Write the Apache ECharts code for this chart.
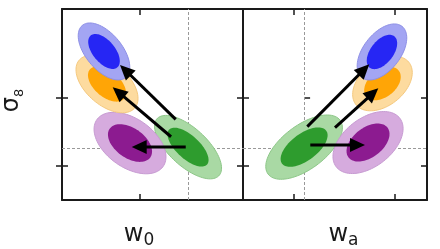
<!DOCTYPE html>
<html><head><meta charset="utf-8">
<script src="https://cdn.jsdelivr.net/npm/echarts@6/dist/echarts.min.js"></script>
<style>html,body{margin:0;padding:0;background:#fff}#c{width:440px;height:249px}</style>
</head><body><div id="c"></div>
<script>
// Forecast models, in drawing order
const models = ['fiducial', 'model P', 'model O', 'model B'];
// Left panel: w0 vs sigma8
const w0Mean   = [-1.000, -1.2417, -1.3375, -1.350];
const w0Sigma  = [0.0563, 0.0604, 0.0521, 0.0433];
const s8MeanL  = [0.7910, 0.7934, 0.8280, 0.8471];
const s8SigmaL = [0.0075, 0.00727, 0.0068, 0.00674];
const rhoL     = [-0.66, -0.45, -0.50, -0.55];
// Right panel: wa vs sigma8
const waMean   = [0.000, 0.633, 0.776, 0.771];
const waSigma  = [0.153, 0.140, 0.119, 0.099];
const s8MeanR  = [0.7910, 0.7937, 0.8283, 0.8468];
const s8SigmaR = [0.0076, 0.00733, 0.00645, 0.00663];
const rhoR     = [0.60, 0.45, 0.40, 0.50];
// 2D contour levels (95%, 68%)
const levels = [2.48, 1.52];
// Shift arrows [x0, y0, xTip, yTip]
const arrowsL = [[-1.0096, 0.7911, -1.2346, 0.7911], [-1.0708, 0.7971, -1.3138, 0.8261], [-1.0513, 0.8073, -1.2833, 0.8392]];
const arrowsR = [[0.0614, 0.7923, 0.6030, 0.7923], [0.3059, 0.8024, 0.7346, 0.8255], [0.0317, 0.8030, 0.6455, 0.8396]];
// Fiducial values and ticks
const w0Fid = -1.0, waFid = 0.0, s8Fid = 0.7905;
const w0Ticks = [-1.2];
const waTicks = [-0.1, 0.9];
const s8Ticks = [0.78, 0.82];
// Axis ranges
const w0Range = [-1.525, -0.771];
const waRange = [-0.605, 1.217];
const s8Range = [0.760, 0.872];

const fills = {
  outer: ['#a9d9a4', '#d6abde', '#fddb9f', '#a3a5f3'],
  inner: ['#2e9c2e', '#8c1b90', '#ffa506', '#2626f4'],
  edge:  ['#8dc788', '#c79bd2', '#f5c97f', '#8e90e6']
};

function ellipseData(mx, sx, my, sy, rho) {
  const d = [];
  for (let i = 0; i < mx.length; i++) {
    for (let l = 0; l < levels.length; l++) {
      d.push([mx[i], my[i], sx[i], sy[i], rho[i], levels[l], i, l]);
    }
  }
  return d;
}
function renderEllipse(params, api) {
  const mx = api.value(0), my = api.value(1), sx = api.value(2), sy = api.value(3);
  const r = api.value(4), k = api.value(5), m = api.value(6), l = api.value(7);
  const pts = [];
  const n = 90;
  const q = Math.sqrt(1 - r * r);
  for (let i = 0; i < n; i++) {
    const t = i / n * 2 * Math.PI;
    const x = mx + k * sx * Math.cos(t);
    const y = my + k * sy * (r * Math.cos(t) + q * Math.sin(t));
    pts.push(api.coord([x, y]));
  }
  return {
    type: 'polygon', shape: { points: pts },
    style: { fill: l === 0 ? fills.outer[m] : fills.inner[m], stroke: l === 0 ? fills.edge[m] : null, lineWidth: 1 }
  };
}
function renderArrow(params, api) {
  const p0 = api.coord([api.value(0), api.value(1)]);
  const p1 = api.coord([api.value(2), api.value(3)]);
  const dx = p1[0] - p0[0], dy = p1[1] - p0[1];
  const L = Math.sqrt(dx * dx + dy * dy) || 1;
  const ux = dx / L, uy = dy / L;
  const hl = 15, hw = 7;
  const bx = p1[0] - ux * hl, by = p1[1] - uy * hl;
  return {
    type: 'group', children: [
      { type: 'line', shape: { x1: p0[0], y1: p0[1], x2: bx + ux * 2, y2: by + uy * 2 }, style: { stroke: '#000', lineWidth: 3 } },
      { type: 'polygon', shape: { points: [p1, [bx - uy * hw, by + ux * hw], [bx + uy * hw, by - ux * hw]] }, style: { fill: '#000' } }
    ]
  };
}

const axisLine = { show: true, onZero: false, lineStyle: { color: '#1a1a1a', width: 2 } };
const tickStyle = { color: '#1a1a1a', width: 1.5 };
function xAx(grid, range, ticks, pos, name, shift) {
  const a = {
    type: 'value', gridIndex: grid, position: pos, min: range[0], max: range[1],
    axisLine: axisLine, splitLine: { show: false },
    axisTick: { show: true, inside: true, length: 6, customValues: ticks, lineStyle: tickStyle },
    axisLabel: { show: false }
  };
  if (name) {
    a.name = name; a.nameLocation = 'middle'; a.nameGap = 25;
    a.nameTextStyle = { padding: shift, rich: {
      m: { fontFamily: 'DejaVu Sans', fontSize: 24, lineHeight: 24, color: '#1a1a1a', verticalAlign: 'bottom', padding: [0, 0, 2, 0] },
      s: { fontFamily: 'DejaVu Sans', fontSize: 17, lineHeight: 17, color: '#1a1a1a', verticalAlign: 'bottom' } } };
  }
  return a;
}
function yAx(grid, pos, inside, showLine, name) {
  const a = {
    type: 'value', gridIndex: grid, position: pos, min: s8Range[0], max: s8Range[1],
    axisLine: showLine ? axisLine : { show: false }, splitLine: { show: false },
    axisTick: { show: true, inside: inside, length: 6, customValues: s8Ticks, lineStyle: tickStyle },
    axisLabel: { show: false }
  };
  if (name) {
    a.name = name; a.nameLocation = 'middle'; a.nameGap = 36; a.nameRotate = 90;
    a.nameTextStyle = { padding: [0, 0, 0, 8], rich: {
      m: { fontFamily: 'DejaVu Sans', fontSize: 24, lineHeight: 24, color: '#1a1a1a', verticalAlign: 'bottom', padding: [0, 0, 2, 0] },
      s: { fontFamily: 'DejaVu Sans', fontSize: 13, lineHeight: 13, color: '#1a1a1a', verticalAlign: 'bottom' } } };
  }
  return a;
}
function fidSeries(xi, yi, xf, xr) {
  return {
    type: 'lines', coordinateSystem: 'cartesian2d', xAxisIndex: xi, yAxisIndex: yi, z: 1, silent: true,
    symbol: 'none', lineStyle: { color: '#999', width: 1, type: [3, 2], opacity: 1 },
    data: [{ coords: [[xf, s8Range[0]], [xf, s8Range[1]]] }, { coords: [[xr[0], s8Fid], [xr[1], s8Fid]] }]
  };
}

const chart = echarts.init(document.getElementById('c'), null, { renderer: 'canvas' });
chart.setOption({
  animation: false,
  backgroundColor: '#fff',
  grid: [
    { left: 62, top: 9, width: 181, height: 191, containLabel: false, outerBoundsMode: 'none' },
    { left: 243, top: 9, width: 184, height: 191, containLabel: false, outerBoundsMode: 'none' }
  ],
  xAxis: [
    xAx(0, w0Range, w0Ticks, 'bottom', '{m|w}{s|0}', [0, 27, 0, 0]),
    xAx(0, w0Range, w0Ticks, 'top'),
    xAx(1, waRange, waTicks, 'bottom', '{m|w}{s|a}', [0, 0, 0, 17]),
    xAx(1, waRange, waTicks, 'top')
  ],
  yAxis: [
    yAx(0, 'left', true, true, '{m|σ}{s|8}'),
    yAx(0, 'right', true, true),
    yAx(0, 'left', false, false),
    yAx(1, 'left', true, true),
    yAx(1, 'right', true, true),
    yAx(1, 'right', false, false)
  ],
  series: [
    fidSeries(0, 0, w0Fid, w0Range),
    fidSeries(2, 3, waFid, waRange),
    { type: 'custom', xAxisIndex: 0, yAxisIndex: 0, z: 2, silent: true, encode: { x: 0, y: 1 },
      renderItem: renderEllipse, data: ellipseData(w0Mean, w0Sigma, s8MeanL, s8SigmaL, rhoL) },
    { type: 'custom', xAxisIndex: 2, yAxisIndex: 3, z: 2, silent: true, encode: { x: 0, y: 1 },
      renderItem: renderEllipse, data: ellipseData(waMean, waSigma, s8MeanR, s8SigmaR, rhoR) },
    { type: 'custom', xAxisIndex: 0, yAxisIndex: 0, z: 5, silent: true, encode: { x: [0, 2], y: [1, 3] },
      renderItem: renderArrow, data: arrowsL },
    { type: 'custom', xAxisIndex: 2, yAxisIndex: 3, z: 5, silent: true, encode: { x: [0, 2], y: [1, 3] },
      renderItem: renderArrow, data: arrowsR }
  ]
});
</script></body></html>
